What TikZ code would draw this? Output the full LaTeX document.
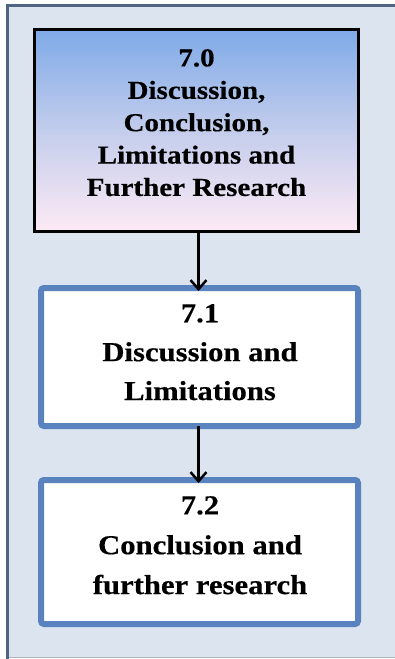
\documentclass[tikz,border=0pt]{standalone}
\usepackage{fontspec}
\setmainfont{Liberation Serif}
\newfontfamily\chartfont[FakeStretch=1.12, FakeBold=0.4]{Liberation Serif Bold}
\usetikzlibrary{arrows.meta}
\definecolor{panelfill}{HTML}{DBE4EF}
\definecolor{paneledge}{HTML}{4E6480}
\definecolor{boxblue}{HTML}{5A82BE}
\definecolor{gradtop}{HTML}{7FAAE8}
\definecolor{gradmid}{HTML}{C3CDEC}
\definecolor{gradbot}{HTML}{FDEAF5}
\tikzset{
  mainbox/.style={draw=black, line width=3bp, top color=gradtop, bottom color=gradbot,
    middle color=gradmid, inner sep=0pt},
  subbox/.style={draw=boxblue, line width=6bp, fill=white, rounded corners=3bp, inner sep=0pt},
  boxtext/.style={align=center, inner sep=0pt},
  flow/.style={draw=black, line width=2.5bp, -{Straight Barb[length=9bp,width=16bp,line width=2.5bp]}},
}
\begin{document}
\begin{tikzpicture}[x=1bp,y=-1bp]
  \useasboundingbox (0,0) rectangle (394,659);
  \fill[white] (0,0) rectangle (394,659);
  % panel behind the chart
  \fill[panelfill] (6,4) rectangle (400,657);
  \draw[panelfill!80!black, line width=1bp] (6,657) -- (400,657);
  \draw[paneledge, line width=3bp] (7.5,659) -- (7.5,5.5) -- (400,5.5);

  % boxes
  \path[mainbox] (34.5,29.5) rectangle (358.5,231.5);
  \coordinate (b0s) at (198.5,231.5);
  \path[subbox] (41,288) rectangle (358,426);
  \coordinate (b1n) at (198.5,288);
  \coordinate (b1s) at (198.5,426);
  \path[subbox] (41,480) rectangle (358,624);
  \coordinate (b2n) at (198.5,480);

  % texts
  \node[boxtext, anchor=north, font=\chartfont\fontsize{26}{32.5}\selectfont] (t0) at (196.5,49)
    {7.0\\Discussion,\\Conclusion,\\Limitations and\\Further Research};
  \node[boxtext, anchor=north, font=\chartfont\fontsize{27.5}{39}\selectfont] (t1) at (200,304)
    {7.1\\Discussion and\\Limitations};
  \node[boxtext, anchor=north, font=\chartfont\fontsize{27.5}{40}\selectfont] (t2) at (200,496)
    {7.2\\Conclusion and\\further research};

  % connectors
  \draw[flow] (b0s) -- ([yshift=-3bp]b1n);
  \draw[flow] (b1s) -- ([yshift=-3bp]b2n);
\end{tikzpicture}
\end{document}
